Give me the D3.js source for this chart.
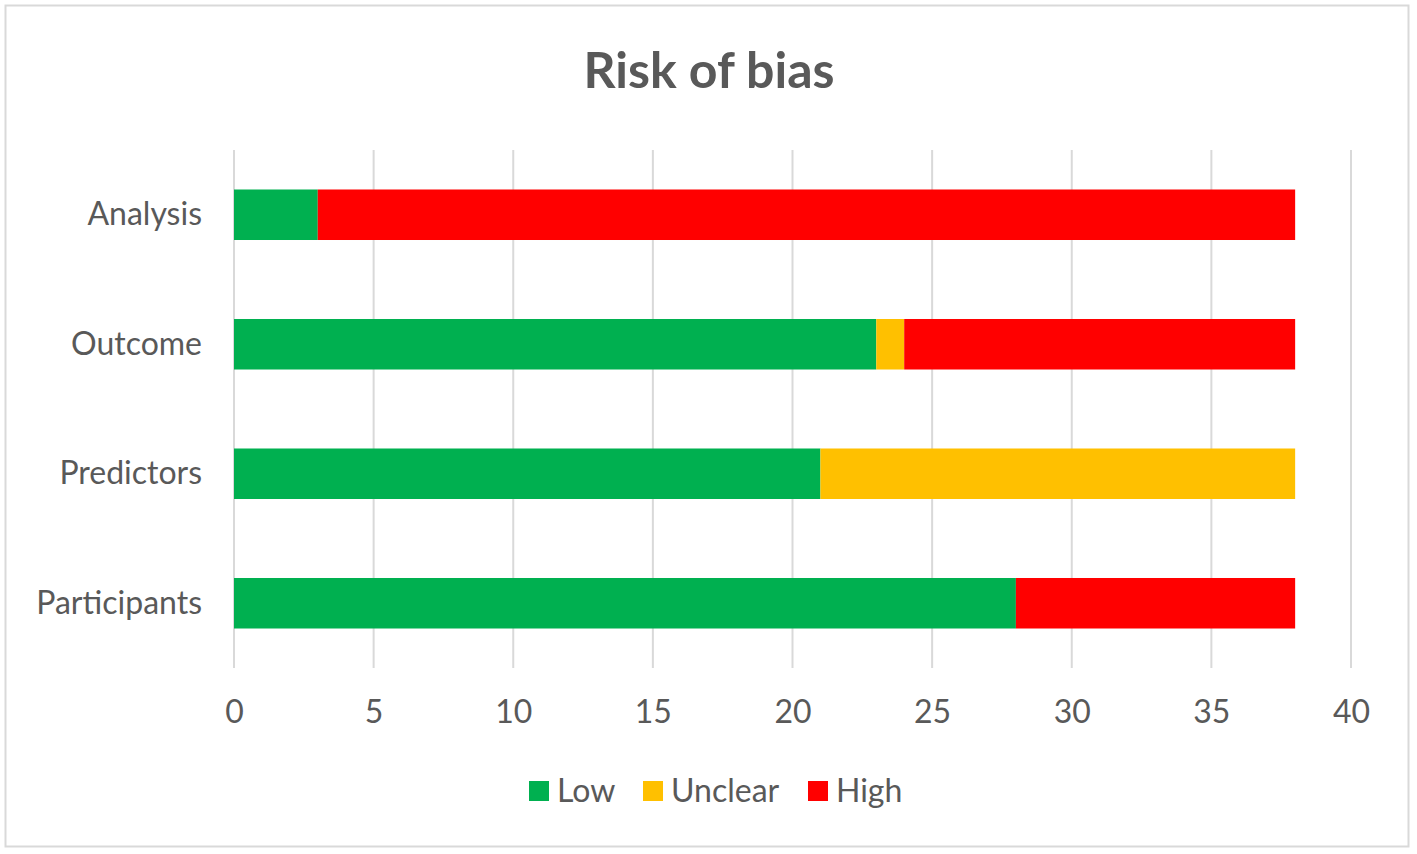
<!DOCTYPE html>
<html>
<head>
<meta charset="utf-8">
<script src="https://cdn.jsdelivr.net/npm/d3@7"></script>
<style>
  body { margin: 0; background: #fff; }
  text { font-family: Lato, "Open Sans", sans-serif; fill: #595959; }
</style>
</head>
<body>
<div id="chart"></div>
<script>
// chart data
const categories = ["Analysis", "Outcome", "Predictors", "Participants"];
const seriesNames = ["Low", "Unclear", "High"];
const lowValues = [3, 23, 21, 28];
const unclearValues = [0, 1, 17, 0];
const highValues = [35, 14, 0, 10];
const xTicks = [0, 5, 10, 15, 20, 25, 30, 35, 40];
const colors = ["#00B050", "#FFC000", "#FF0000"];

const W = 1417, H = 854;
const margin = {top: 150, right: 66, bottom: 186, left: 234};
const width = W - margin.left - margin.right,
    height = H - margin.top - margin.bottom;

const svg = d3.select("#chart").append("svg")
    .attr("width", W)
    .attr("height", H);

// outer border
svg.append("rect")
    .attr("x", 5.5).attr("y", 5.5)
    .attr("width", 1403).attr("height", 841)
    .attr("fill", "#fff")
    .attr("stroke", "#D9D9D9")
    .attr("stroke-width", 2);

svg.append("text")
    .attr("x", 709)
    .attr("y", 88)
    .attr("text-anchor", "middle")
    .style("font-size", "50px")
    .style("font-weight", "bold")
    .text("Risk of bias");

const g = svg.append("g")
    .attr("transform", `translate(${margin.left},${margin.top})`);

const x = d3.scaleLinear()
    .domain([0, 40])
    .range([0, 1117]);

const y = d3.scaleBand()
    .domain(categories)
    .range([0, height])
    .paddingInner(0.61)
    .paddingOuter(0.305);

// gridlines
g.selectAll(".grid")
    .data(xTicks)
    .join("line")
    .attr("x1", d => x(d)).attr("x2", d => x(d))
    .attr("y1", 0).attr("y2", height)
    .attr("stroke", "#D9D9D9")
    .attr("stroke-width", 2);

// stack the series
const rows = categories.map((c, i) => ({
    cat: c, Low: lowValues[i], Unclear: unclearValues[i], High: highValues[i]
}));
const stacked = d3.stack().keys(seriesNames)(rows);

g.selectAll(".series")
    .data(stacked)
    .join("g")
    .attr("fill", (d, i) => colors[i])
    .selectAll("rect")
    .data(d => d)
    .join("rect")
    .attr("x", d => x(d[0]))
    .attr("y", d => y(d.data.cat))
    .attr("width", d => x(d[1]) - x(d[0]))
    .attr("height", y.bandwidth());

// x axis labels
const xAxis = g.append("g")
    .attr("transform", `translate(0,${height})`)
    .call(d3.axisBottom(x).tickValues(xTicks).tickSize(0).tickPadding(32));
xAxis.select(".domain").remove();
xAxis.selectAll("text")
    .style("font-size", "32px")
    .attr("fill", "#595959");

// y axis labels
const yAxis = g.append("g")
    .call(d3.axisLeft(y).tickSize(0).tickPadding(32));
yAxis.select(".domain").remove();
yAxis.selectAll("text")
    .style("font-size", "32px")
    .attr("fill", "#595959");

// legend
const legendX = [529, 643, 808];
const legend = svg.selectAll(".legend")
    .data(seriesNames)
    .join("g")
    .attr("transform", (d, i) => `translate(${legendX[i]},781)`);
legend.append("rect")
    .attr("width", 20).attr("height", 20)
    .attr("fill", (d, i) => colors[i]);
legend.append("text")
    .attr("x", 28)
    .attr("y", 21)
    .style("font-size", "32px")
    .text(d => d);
</script>
</body>
</html>
